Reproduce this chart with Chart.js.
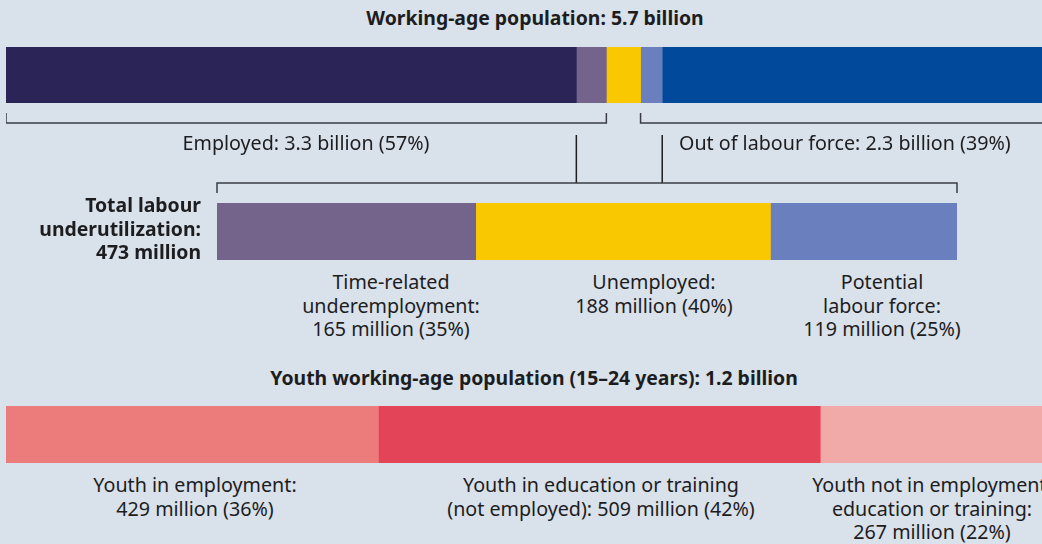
<!DOCTYPE html>
<html lang="en">
<head>
  <meta charset="UTF-8">
  <title>Labour underutilization</title>
  <script src="https://cdn.jsdelivr.net/npm/chart.js"></script>
  <style>
    body { margin: 0; background: #d9e1ea; font-family: "Noto Sans", sans-serif; color: #1d1d1f; }
    #wrap { position: relative; width: 1042px; height: 544px; overflow: hidden; }
    canvas { position: absolute; }
    .t { position: absolute; white-space: nowrap; font-size: 19.7px; line-height: 23.5px; }
    .c { transform: translateX(-50%); text-align: center; }
    .b { font-weight: bold; font-size: 19.4px; }
  </style>
</head>
<body>
  <div id="wrap">
    <div class="t b c" style="left:535px; top:6px;">Working-age population: 5.7 billion</div>
    <canvas id="topChart" width="1053" height="150" style="left:6px; top:47px;"></canvas>
    <div class="t c" style="left:306px; top:131px;">Employed: 3.3 billion (57%)</div>
    <div class="t" style="left:679px; top:131px;">Out of labour force: 2.3 billion (39%)</div>

    <div class="t b" style="right:841px; top:193px; text-align:right;">Total labour<br>underutilization:<br>473 million</div>
    <canvas id="midChart" width="740" height="57" style="left:217px; top:203px;"></canvas>
    <div class="t c" style="left:391px; top:270px;">Time-related<br>underemployment:<br>165 million (35%)</div>
    <div class="t c" style="left:654px; top:270px;">Unemployed:<br>188 million (40%)</div>
    <div class="t c" style="left:882px; top:270px;">Potential<br>labour force:<br>119 million (25%)</div>

    <div class="t b c" style="left:534px; top:366px;">Youth working-age population (15–24 years): 1.2 billion</div>
    <canvas id="youthChart" width="1046" height="57" style="left:6px; top:406px;"></canvas>
    <div class="t c" style="left:195px; top:473px;">Youth in employment:<br>429 million (36%)</div>
    <div class="t c" style="left:601px; top:473px;">Youth in education or training<br>(not employed): 509 million (42%)</div>
    <div class="t c" style="left:932px; top:473px;">Youth not in employment,<br>education or training:<br>267 million (22%)</div>
  </div>

  <script>
    // working-age population, millions
    const topLabels = ['Employed (not underemployed)', 'Time-related underemployment', 'Unemployed', 'Potential labour force', 'Out of labour force (other)'];
    const topValues = [3135, 165, 188, 119, 2181];
    const topColors = ['#2b2457', '#74638b', '#fac800', '#6a7fbd', '#00499b'];

    // total labour underutilization, millions
    const midLabels = ['Time-related underemployment', 'Unemployed', 'Potential labour force'];
    const midValues = [165, 188, 119];
    const midColors = ['#74638b', '#fac800', '#6a7fbd'];

    // youth working-age population, millions
    const youthLabels = ['Youth in employment', 'Youth in education or training', 'Youth NEET'];
    const youthValues = [429, 509, 267];
    const youthColors = ['#ec7b7c', '#e34457', '#f1aaa8'];

    const TOP_LEFT = 6, TOP_Y = 47;
    const MID_LEFT = 217, MID_RIGHT = 957;
    const lineColor = '#3a3d43';

    function sum(arr) { return arr.reduce((a, b) => a + b, 0); }

    function stackedBar(id, labels, values, colors, padBottom, extra) {
      const ctx = document.getElementById(id).getContext('2d');
      return new Chart(ctx, {
        type: 'bar',
        data: {
          labels: [''],
          datasets: values.map((v, i) => ({
            label: labels[i],
            data: [v],
            backgroundColor: colors[i],
            borderWidth: 0,
            barPercentage: 1,
            categoryPercentage: 1
          }))
        },
        options: {
          indexAxis: 'y',
          responsive: false,
          animation: false,
          layout: { padding: { top: 0, left: 0, right: 0, bottom: padBottom } },
          plugins: { legend: { display: false }, tooltip: { enabled: false } },
          scales: {
            x: { stacked: true, display: false, min: 0, max: sum(values) },
            y: { stacked: true, display: false }
          }
        },
        plugins: extra ? [extra] : []
      });
    }

    // brackets under the top bar, computed from its x scale
    const bracketPlugin = {
      id: 'brackets',
      afterDraw(chart) {
        const c = chart.ctx, x = chart.scales.x;
        const cum = [0];
        topValues.forEach(v => cum.push(cum[cum.length - 1] + v));
        const px = v => x.getPixelForValue(v);
        const yB = 123 - TOP_Y, yT = 113 - TOP_Y;
        c.save();
        c.strokeStyle = lineColor;
        c.lineWidth = 1.5;
        c.beginPath();
        // employed
        c.moveTo(px(0), yT); c.lineTo(px(0), yB); c.lineTo(px(cum[2]), yB); c.lineTo(px(cum[2]), yT);
        // out of labour force
        c.moveTo(px(cum[3]), yT); c.lineTo(px(cum[3]), yB); c.lineTo(px(cum[5]) + 10, yB);
        c.stroke();

        // connector to the underutilization bar
        const yC0 = 135 - TOP_Y, yC1 = 183 - TOP_Y, yC2 = 193 - TOP_Y;
        c.strokeStyle = '#1e1f22';
        c.beginPath();
        c.moveTo(px(cum[1]), yC0); c.lineTo(px(cum[1]), yC1);
        c.moveTo(px(cum[4]), yC0); c.lineTo(px(cum[4]), yC1);
        c.stroke();
        c.strokeStyle = lineColor;
        c.beginPath();
        c.moveTo(MID_LEFT - TOP_LEFT, yC2); c.lineTo(MID_LEFT - TOP_LEFT, yC1);
        c.lineTo(MID_RIGHT - TOP_LEFT, yC1); c.lineTo(MID_RIGHT - TOP_LEFT, yC2);
        c.stroke();
        c.restore();
      }
    };

    stackedBar('topChart', topLabels, topValues, topColors, 94, bracketPlugin);
    stackedBar('midChart', midLabels, midValues, midColors, 0);
    stackedBar('youthChart', youthLabels, youthValues, youthColors, 0);
  </script>
</body>
</html>
